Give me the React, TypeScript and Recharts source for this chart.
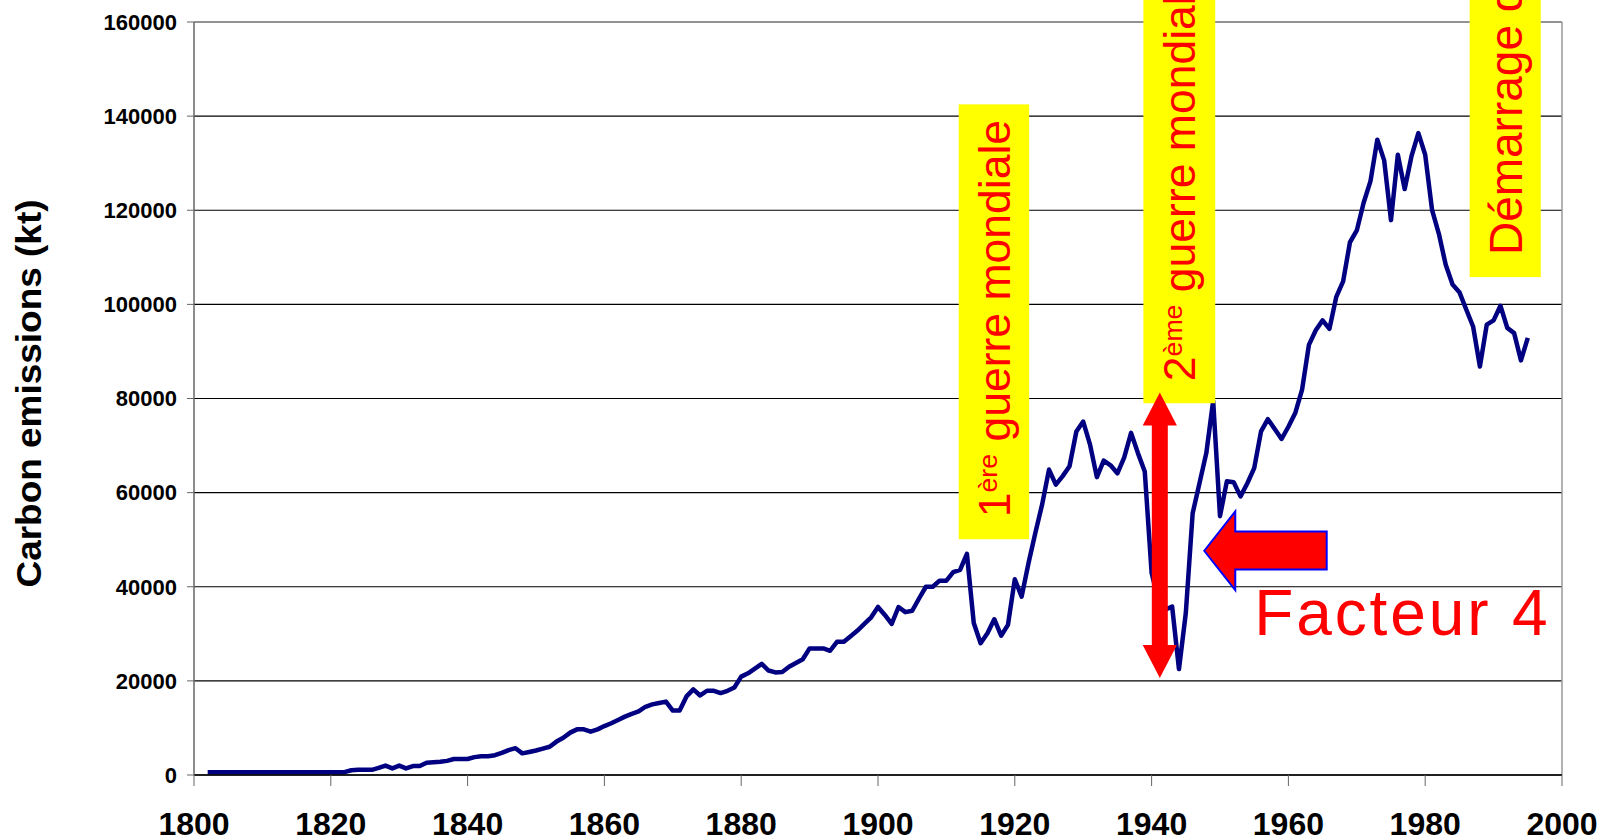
import React from "react";
import {
  LineChart,
  Line,
  XAxis,
  YAxis,
  CartesianGrid,
  ReferenceArea,
  ReferenceLine,
} from "recharts";

// yearly carbon emissions (kt), 1802 -> 1995
const FIRST_YEAR = 1802;
const EMISSIONS = [
  600, 600, 600, 600, 600, 600, 600, 600, 600, 600, 600, 600, 600, 600, 600,
  600, 600, 600, 600, 600, 600,
  // 1823
  1000, 1100, 1100, 1100, 1500, 2000, 1400, 2000, 1400, 1900, 1900, 2600, 2700,
  2800, 3000, 3400, 3400, 3400, 3800, 4000, 4000, 4200, 4700, 5300, 5700, 4600,
  4900,
  // 1850
  5200, 5600, 6000, 7100, 7900, 9000, 9700, 9700, 9200, 9700,
  // 1860
  10400, 11000, 11700, 12400, 13000, 13500, 14500, 15000, 15300, 15600,
  // 1870
  13700, 13700, 16700, 18200, 16900, 17900, 17900, 17400, 17900, 18600,
  // 1880
  20900, 21600, 22600, 23600, 22200, 21800, 21900, 23000, 23800, 24600,
  // 1890
  26900, 26900, 26900, 26400, 28300, 28300, 29500, 30700, 32100, 33500,
  // 1900
  35700, 34000, 32100, 35700, 34600, 34900, 37500, 40000, 40000, 41300,
  // 1910
  41300, 43100, 43600, 47000, 32300, 28000, 30100, 33100, 29600, 31900,
  // 1920
  41600, 37900, 45000, 51400, 57500, 64900, 61700, 63500, 65600, 73000,
  // 1930
  75100, 70200, 63300, 66800, 65800, 64100, 67500, 72700, 68400, 64500,
  // 1940
  43000, 37000, 35100, 35800, 22500, 34400, 55600, 62000, 68400, 79500,
  // 1950
  55000, 62400, 62200, 59200, 62000, 65200, 73000, 75600, 73500, 71400,
  // 1960
  74000, 76900, 81900, 91400, 94500, 96600, 94800, 101600, 104900, 113200,
  // 1970
  115700, 121600, 126200, 135000, 130600, 117900, 131800, 124500, 131500, 136400,
  // 1980
  131800, 120100, 115000, 108400, 104200, 102600, 98900, 95300, 86800, 95700,
  // 1990
  96600, 99700, 95000, 93900, 88100, 92900,
];
const YEARS = EMISSIONS.map((_, i) => FIRST_YEAR + i);

const X_TICKS = [1800, 1820, 1840, 1860, 1880, 1900, 1920, 1940, 1960, 1980, 2000];
const Y_TICKS = [0, 20000, 40000, 60000, 80000, 100000, 120000, 140000, 160000];

const data = YEARS.map((year, i) => ({ year, kt: EMISSIONS[i] }));

const FONT = '"Liberation Sans", Arial, Helvetica, sans-serif';
const RED = "#FF0000";
const YELLOW = "#FFFF00";

// yellow note boxes with vertical red text, in chart units
function NoteBox(props: any) {
  const { x, y, width, height, first, sup, rest, fontSize } = props;
  const base = x + width / 2 + fontSize * 0.36;
  const start = y + height - 22;
  return (
    <g>
      <rect x={x} y={y} width={width} height={height} fill={YELLOW} />
      <text
        x={base}
        y={start}
        transform={`rotate(-90 ${base} ${start})`}
        fill={RED}
        fontFamily={FONT}
        fontSize={fontSize}
      >
        {first}
        {sup ? (
          <tspan fontSize={fontSize * 0.6} dy={-fontSize * 0.3}>
            {sup}
          </tspan>
        ) : null}
        <tspan dy={sup ? fontSize * 0.3 : 0}>{rest}</tspan>
      </text>
    </g>
  );
}

function DoubleArrow(props: any) {
  const { x, y, width, height } = props;
  const cx = x + width / 2;
  const shaft = 8;
  const head = 33;
  const b = y + height;
  const pts = [
    [cx, y],
    [x + width, y + head],
    [cx + shaft, y + head],
    [cx + shaft, b - head],
    [x + width, b - head],
    [cx, b],
    [x, b - head],
    [cx - shaft, b - head],
    [cx - shaft, y + head],
    [x, y + head],
  ]
    .map((p) => p.join(","))
    .join(" ");
  return <polygon points={pts} fill={RED} />;
}

function LeftArrow(props: any) {
  const { x, y, width, height } = props;
  const mid = y + height / 2;
  const hx = x + 31;
  const st = y + height * 0.256;
  const sb = y + height * 0.74;
  const pts = [
    [x, mid],
    [hx, y],
    [hx, st],
    [x + width, st],
    [x + width, sb],
    [hx, sb],
    [hx, y + height],
  ]
    .map((p) => p.join(","))
    .join(" ");
  return <polygon points={pts} fill={RED} stroke="#0000FF" strokeWidth={2} />;
}

function FacteurText(props: any) {
  const { x, y, width, height } = props;
  return (
    <text
      x={x}
      y={y + height}
      fill={RED}
      fontFamily={FONT}
      fontSize={64}
      textLength={width}
      lengthAdjust="spacing"
    >
      Facteur 4
    </text>
  );
}

function YLabel(props: any) {
  const vb = props.viewBox || { x: 0, y: 22, width: 194, height: 753 };
  const bx = vb.x + 41;
  const cy = vb.y + vb.height / 2 - 5;
  return (
    <text
      x={bx}
      y={cy}
      transform={`rotate(-90 ${bx} ${cy})`}
      textAnchor="middle"
      fontFamily={FONT}
      fontWeight={700}
      fontSize={35}
      textLength={388}
      lengthAdjust="spacingAndGlyphs"
      fill="#000"
    >
      Carbon emissions (kt)
    </text>
  );
}

export default function App() {
  return (
    <div style={{ position: "absolute", left: 0, top: 0, width: 1601, height: 839, background: "#fff" }}>
      <LineChart
        width={1601}
        height={839}
        data={data}
        margin={{ top: 22, right: 39, bottom: 0, left: 0 }}
      >
        <CartesianGrid vertical={false} stroke="#000" strokeWidth={1.2} />
        <XAxis
          dataKey="year"
          type="number"
          domain={[1800, 2000]}
          ticks={X_TICKS}
          interval={0}
          height={64}
          tickSize={11}
          tickMargin={26}
          axisLine={{ stroke: "#000", strokeWidth: 1.5 }}
          tickLine={{ stroke: "#666" }}
          tick={{ fill: "#000", fontSize: 32, fontWeight: 700, fontFamily: FONT }}
        />
        <YAxis
          type="number"
          domain={[0, 160000]}
          ticks={Y_TICKS}
          interval={0}
          width={194}
          tickSize={7}
          tickMargin={10}
          axisLine={{ stroke: "#666", strokeWidth: 1.5 }}
          tickLine={{ stroke: "#666" }}
          tick={{ fill: "#000", fontSize: 22, fontWeight: 700, fontFamily: FONT }}
          label={(p: any) => <YLabel {...p} />}
        />
        <ReferenceLine y={160000} stroke="#999" strokeWidth={1.5} />
        <ReferenceLine x={2000} stroke="#999" strokeWidth={1.5} />
        <Line
          type="linear"
          dataKey="kt"
          stroke="#000080"
          strokeWidth={4.5}
          strokeLinejoin="round"
          dot={false}
          activeDot={false}
          isAnimationActive={false}
        />
        <ReferenceArea
          x1={1911.8}
          x2={1922.1}
          y1={50100}
          y2={142500}
          ifOverflow="visible"
          zIndex={1000}
          shape={(p: any) => (
            <NoteBox {...p} first="1" sup="ère" rest=" guerre mondiale" fontSize={44.5} />
          )}
        />
        <ReferenceArea
          x1={1938.8}
          x2={1949.3}
          y1={79000}
          y2={164800}
          ifOverflow="visible"
          zIndex={1000}
          shape={(p: any) => (
            <NoteBox {...p} first="2" sup="ème" rest=" guerre mondiale" fontSize={44.5} />
          )}
        />
        <ReferenceArea
          x1={1986.5}
          x2={1996.9}
          y1={105800}
          y2={164800}
          ifOverflow="visible"
          zIndex={1000}
          shape={(p: any) => (
            <NoteBox {...p} first="Démarrage du nucléaire" rest="" fontSize={46} />
          )}
        />
        <ReferenceArea
          x1={1938.7}
          x2={1943.7}
          y1={20600}
          y2={81300}
          ifOverflow="visible"
          zIndex={1000}
          shape={(p: any) => <DoubleArrow {...p} />}
        />
        <ReferenceArea
          x1={1947.7}
          x2={1965.6}
          y1={39300}
          y2={56000}
          ifOverflow="visible"
          zIndex={1000}
          shape={(p: any) => <LeftArrow {...p} />}
        />
        <ReferenceArea
          x1={1955.0}
          x2={1997.9}
          y1={29770}
          y2={39550}
          ifOverflow="visible"
          zIndex={1000}
          shape={(p: any) => <FacteurText {...p} />}
        />
      </LineChart>
    </div>
  );
}
